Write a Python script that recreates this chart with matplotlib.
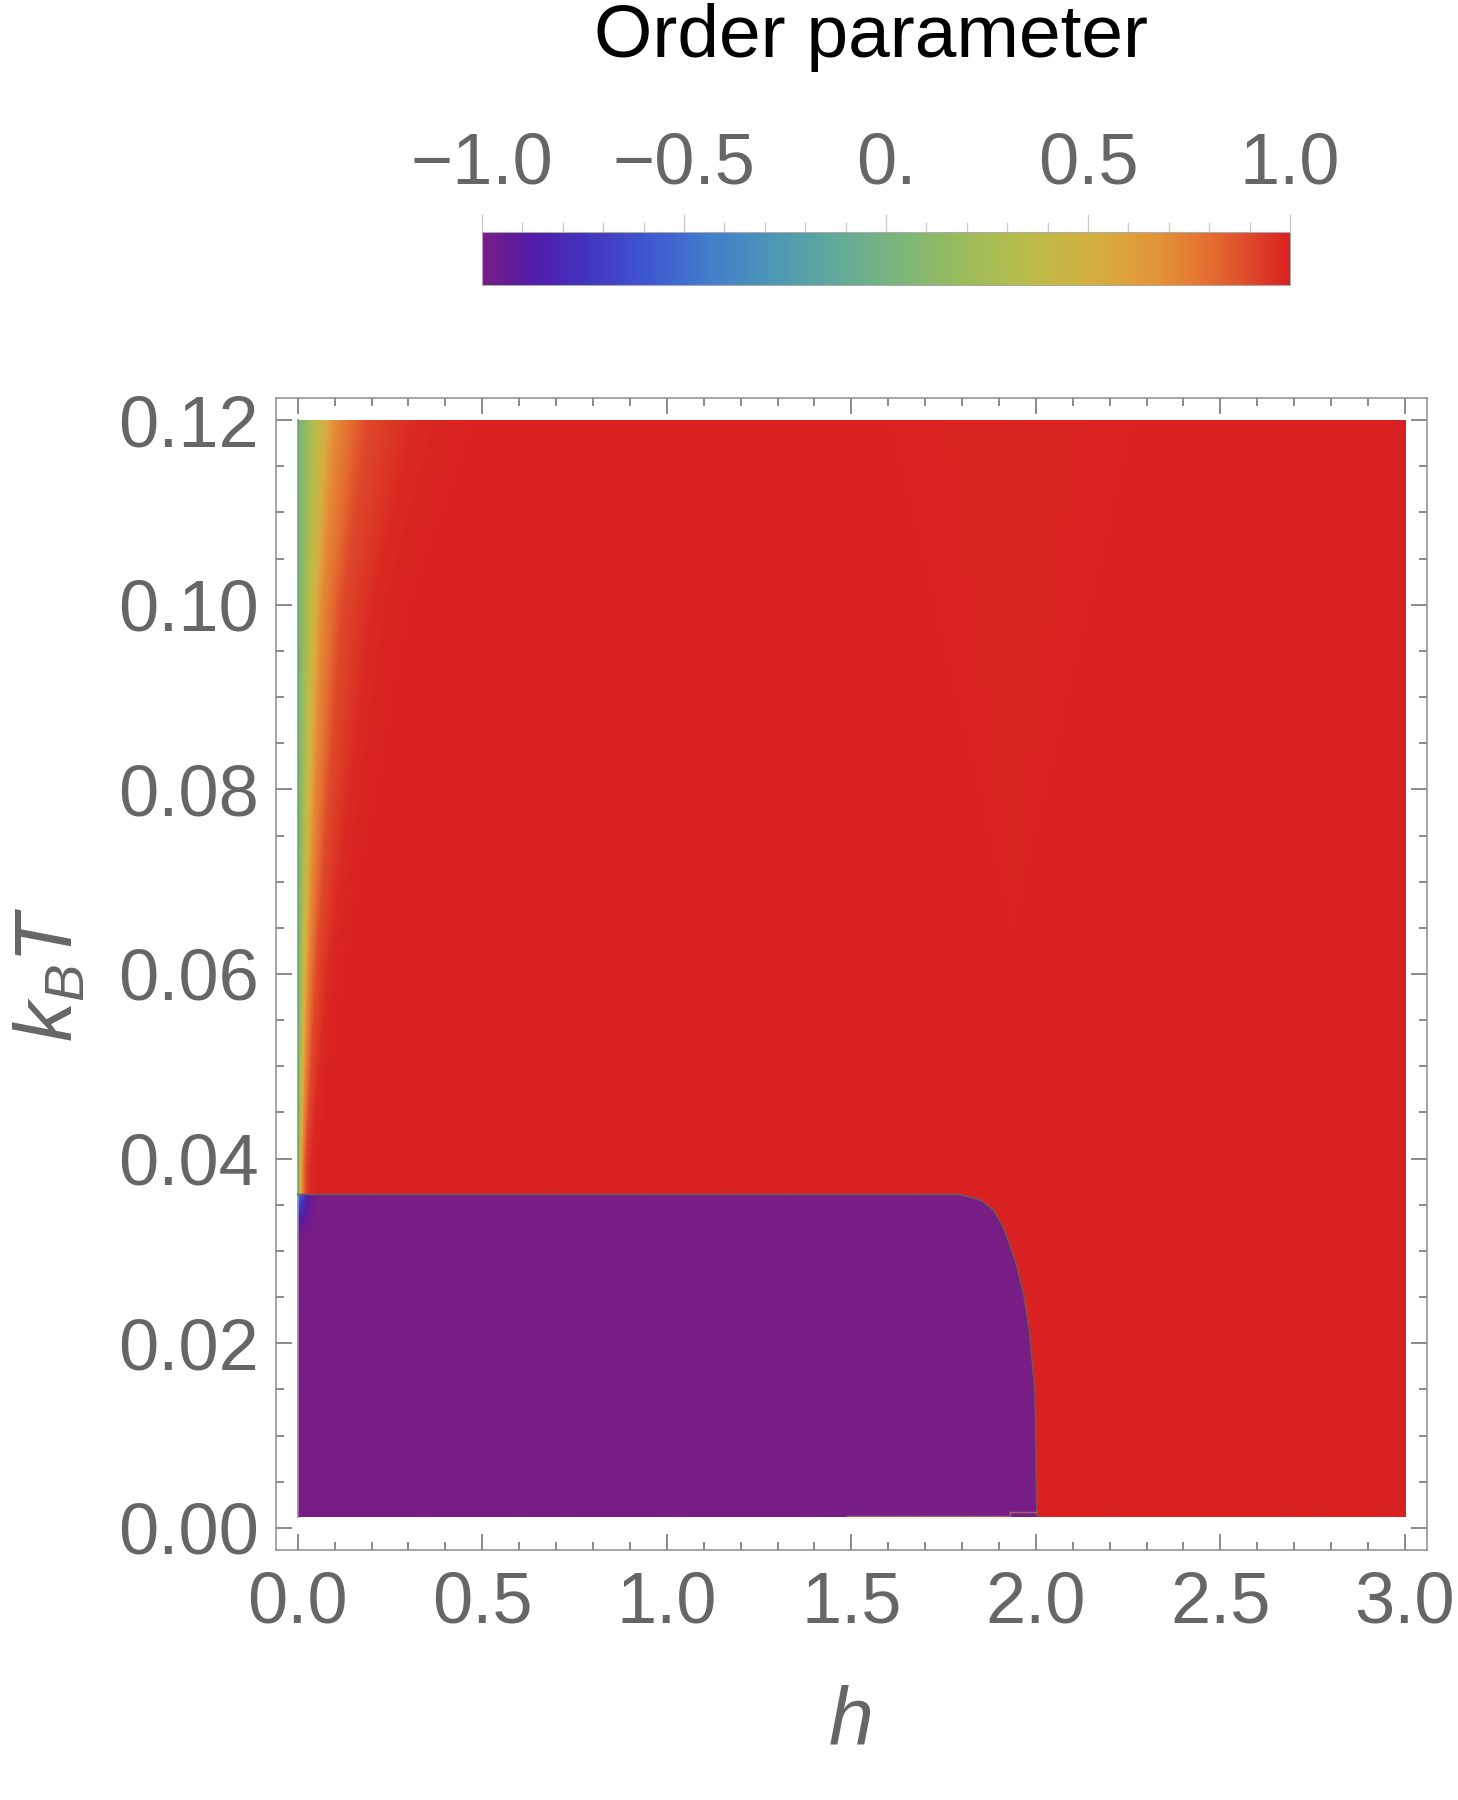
"""Order parameter density map over field h and temperature k_B T.
Boundary of the ordered (m = -1) region and the paramagnetic profile are
read off the original figure.
"""
import numpy as np
import matplotlib
matplotlib.use("Agg")
import matplotlib.pyplot as plt
from matplotlib.colors import LinearSegmentedColormap
from matplotlib.ticker import MultipleLocator, FormatStrFormatter

plt.rcParams["font.family"] = ["Liberation Sans", "DejaVu Sans"]
plt.rcParams["mathtext.fontset"] = "custom"
plt.rcParams["mathtext.it"] = "Liberation Sans:italic"
plt.rcParams["mathtext.rm"] = "Liberation Sans"

# colour scale sampled off the legend bar (Rainbow-like)
CMAP_POS = [0.00, 0.06, 0.12, 0.20, 0.28, 0.36, 0.44, 0.52, 0.60, 0.68, 0.76, 0.84, 0.90, 0.95, 1.00]
CMAP_HEX = ["#781c86", "#531ba6", "#4430bd", "#3e55d0", "#427dcb", "#4c97b6", "#62aa9a",
            "#7cb67a", "#9cbc5a", "#bcbc48", "#d6ae40", "#e39236", "#e46e30", "#de4a2a", "#d92121"]

# ordered-phase boundary h_c(T)
BOUND_T = [0.0013, 0.0147, 0.0179, 0.0216, 0.0252, 0.0288, 0.0324, 0.0344, 0.0355, 0.0361]
BOUND_H = [2.003, 1.998, 1.991, 1.982, 1.968, 1.946, 1.914, 1.887, 1.851, 1.797]
T_TOP = 0.0361

# paramagnetic side: field where m reaches 0.4, per temperature
WIDTH_T = [0.036, 0.039, 0.06, 0.08, 0.10, 0.12]
WIDTH_H = [0.006, 0.006, 0.015, 0.026, 0.037, 0.058]
# order parameter against h / width
PROFILE_X = [0.0, 0.5, 1.0, 1.7, 3.2, 5.5, 9.0]
PROFILE_M = [0.0, 0.22, 0.40, 0.70, 0.90, 0.98, 1.0]

# bluish corner just under T_TOP near h = 0
CORNER_H = [0.0, 0.01, 0.025, 0.05]
CORNER_DM = [0.55, 0.35, 0.12, 0.0]
CORNER_DT = [0.0, 0.0015, 0.003, 0.005]
CORNER_FT = [1.0, 0.6, 0.2, 0.0]

# faint lighter wedge in the red region
DIP_T = [0.064, 0.12]
DIP_HALF = [0.0, 0.42]
DIP_CENTER = 1.935
DIP_DEPTH = 0.012

# faint line along the bottom edge
BOTTOM_H = [1.487, 1.93, 1.93, 2.0]
BOTTOM_T = [0.0013, 0.0013, 0.0017, 0.0017]

H_RANGE = (0.0, 3.0)
T_RANGE = (0.0012, 0.12)

cmap = LinearSegmentedColormap.from_list("rainbow_m", list(zip(CMAP_POS, CMAP_HEX)), N=512)

H = np.linspace(*H_RANGE, 1201)
T = np.linspace(*T_RANGE, 900)
hh, tt = np.meshgrid(H, T)

w = np.interp(tt, WIDTH_T, WIDTH_H)
m = np.interp(hh / w, PROFILE_X, PROFILE_M)
half = np.interp(tt, DIP_T, DIP_HALF)
wedge = np.clip(1 - np.abs(hh - DIP_CENTER) / np.maximum(half, 1e-9), 0, 1) ** 0.7
m = m - DIP_DEPTH * wedge * (tt > DIP_T[0])

hc = np.interp(tt, BOUND_T, BOUND_H)
inside = (tt <= T_TOP) & (hh <= hc)
corner = np.interp(hh, CORNER_H, CORNER_DM) * np.interp(T_TOP - tt, CORNER_DT, CORNER_FT)
m = np.where(inside, -1 + corner, m)

fig = plt.figure(figsize=(14.58, 18), dpi=100)
ax = fig.add_axes([0.189, 0.1389, 0.7898, 0.64])

im = ax.imshow(m, extent=[H[0], H[-1], T[0], T[-1]], origin="lower", aspect="auto",
               cmap=cmap, vmin=-1, vmax=1, interpolation="bilinear")

# h = 0 edge and outline of the ordered region
ax.plot([H[0], H[0]], [T[0], T[-1]], color="#7f9a80", lw=1.4, alpha=0.8)
line_h = [0.0] + BOUND_H[::-1]
line_t = [T_TOP] + BOUND_T[::-1]
ax.plot(line_h, line_t, color="#6e6259", lw=1.3, alpha=0.8)
ax.plot(BOTTOM_H, BOTTOM_T, color="#b07a60", lw=1.0, alpha=0.8)

ax.set_xlim(-0.06, 3.06)
ax.set_ylim(-0.0024, 0.1224)
ax.xaxis.set_major_locator(MultipleLocator(0.5))
ax.xaxis.set_minor_locator(MultipleLocator(0.1))
ax.yaxis.set_major_locator(MultipleLocator(0.02))
ax.yaxis.set_minor_locator(MultipleLocator(0.005))
ax.xaxis.set_major_formatter(FormatStrFormatter("%.1f"))
ax.yaxis.set_major_formatter(FormatStrFormatter("%.2f"))
ax.tick_params(which="both", direction="in", top=True, right=True, color="#777777",
               width=1.2, labelcolor="#666666", labelsize=52)
ax.tick_params(which="major", length=11.5)
ax.tick_params(which="minor", length=6)
ax.tick_params(axis="x", pad=15)
ax.tick_params(axis="y", pad=12)
for s in ax.spines.values():
    s.set_color("#8c8c8c")
    s.set_linewidth(1.1)

cax = fig.add_axes([0.3306, 0.8417, 0.5542, 0.0294])
cb = fig.colorbar(im, cax=cax, orientation="horizontal", ticklocation="top")
cb.set_ticks([-1, -0.5, 0, 0.5, 1])
cb.set_ticklabels(["\u22121.0", "\u22120.5", "0.", "0.5", "1.0"])
cax.xaxis.set_minor_locator(MultipleLocator(0.1))
cax.tick_params(which="both", color="#cccccc", width=1.0, labelcolor="#666666", labelsize=52)
cax.tick_params(which="major", length=13, pad=11)
cax.tick_params(which="minor", length=7)
cb.outline.set_edgecolor("#aaaaaa")
cb.outline.set_linewidth(0.8)

fig.text(0.5974, 1 - 57 / 1800, "Order parameter", ha="center", va="baseline",
         fontsize=54, color="black")
fig.text(0.583, 1 - 1743 / 1800, "$h$", ha="center", va="baseline", fontsize=58, color="#666666")
fig.text(0.0353, 0.459, "$k_BT$", rotation=90, ha="center", va="center", fontsize=58,
         color="#666666")

fig.savefig("out.png", dpi=100)
plt.close()
